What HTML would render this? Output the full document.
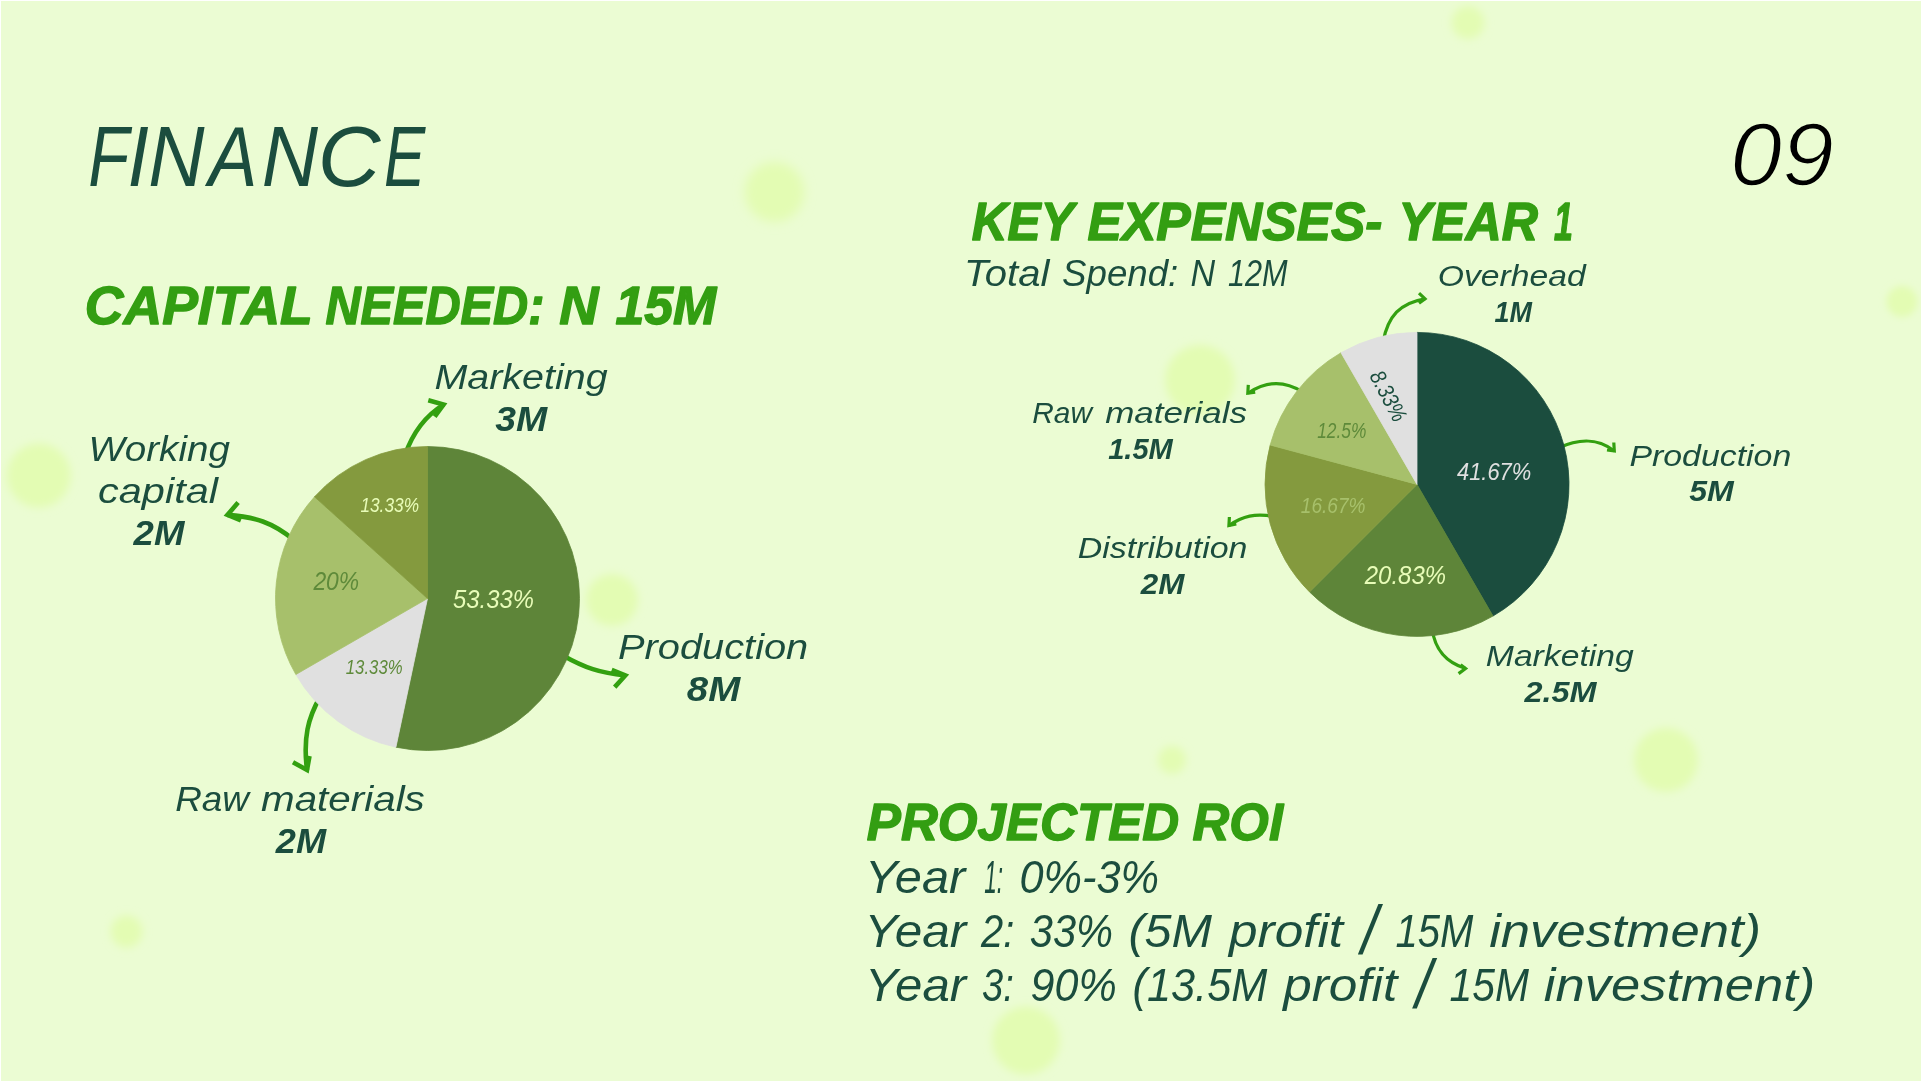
<!DOCTYPE html><html><head><meta charset="utf-8"><title>Finance</title><style>html,body{margin:0;padding:0;background:#fff;}body{width:1921px;height:1081px;overflow:hidden;position:relative;}svg{position:absolute;left:1px;top:1px;display:block;will-change:transform;}text{font-family:"Liberation Sans",Arial,sans-serif;font-style:italic;white-space:pre;}</style></head><body>
<svg width="1920" height="1080" viewBox="1 1 1920 1080">
<defs><filter id="b0" x="-100%" y="-100%" width="300%" height="300%"><feGaussianBlur stdDeviation="4"/></filter><filter id="b1" x="-100%" y="-100%" width="300%" height="300%"><feGaussianBlur stdDeviation="5.5"/></filter><filter id="b2" x="-100%" y="-100%" width="300%" height="300%"><feGaussianBlur stdDeviation="3.5"/></filter><filter id="b3" x="-100%" y="-100%" width="300%" height="300%"><feGaussianBlur stdDeviation="4"/></filter><filter id="b4" x="-100%" y="-100%" width="300%" height="300%"><feGaussianBlur stdDeviation="4.5"/></filter><filter id="b5" x="-100%" y="-100%" width="300%" height="300%"><feGaussianBlur stdDeviation="4"/></filter><filter id="b6" x="-100%" y="-100%" width="300%" height="300%"><feGaussianBlur stdDeviation="4"/></filter><filter id="b7" x="-100%" y="-100%" width="300%" height="300%"><feGaussianBlur stdDeviation="4.5"/></filter><filter id="b8" x="-100%" y="-100%" width="300%" height="300%"><feGaussianBlur stdDeviation="4.5"/></filter><filter id="b9" x="-100%" y="-100%" width="300%" height="300%"><feGaussianBlur stdDeviation="4"/></filter></defs>
<rect x="1" y="1" width="1920" height="1080" fill="#ebfcd3"/>
<circle cx="1468" cy="22.6" r="16.5" fill="#e3fcb3" filter="url(#b0)"/>
<circle cx="774.5" cy="192" r="30" fill="#e3fcb3" filter="url(#b1)"/>
<circle cx="1902" cy="301.6" r="15.5" fill="#e3fcb3" filter="url(#b2)"/>
<circle cx="38.8" cy="475.6" r="32" fill="#e3fcb3" filter="url(#b3)"/>
<circle cx="1200" cy="380" r="35" fill="#e3fcb3" filter="url(#b4)"/>
<circle cx="612" cy="600" r="26" fill="#e3fcb3" filter="url(#b5)"/>
<circle cx="1172" cy="760" r="14" fill="#e3fcb3" filter="url(#b6)"/>
<circle cx="1666" cy="760" r="32" fill="#e3fcb3" filter="url(#b7)"/>
<circle cx="126.6" cy="931.6" r="16" fill="#e3fcb3" filter="url(#b8)"/>
<circle cx="1026" cy="1040.6" r="34" fill="#e3fcb3" filter="url(#b9)"/>
<path d="M405,455 C413,432 425,416 443.57,404.61" fill="none" stroke="#33a010" stroke-width="4.6" stroke-linecap="butt"/><path d="M428.3,400.3 L443.57,404.61 L434.7,416.6" fill="none" stroke="#33a010" stroke-width="4.6" stroke-linejoin="miter" stroke-miterlimit="20" stroke-linecap="butt"/>
<path d="M294,540 C272,522 255,517 227.44,514.89" fill="none" stroke="#33a010" stroke-width="4.6" stroke-linecap="butt"/><path d="M238.1,502.6 L227.44,514.89 L240.9,520.4" fill="none" stroke="#33a010" stroke-width="4.6" stroke-linejoin="miter" stroke-miterlimit="20" stroke-linecap="butt"/>
<path d="M562,655 C585,668 600,673 625.27,675.49" fill="none" stroke="#33a010" stroke-width="4.6" stroke-linecap="butt"/><path d="M611.7,670 L625.27,675.49 L614.7,687.1" fill="none" stroke="#33a010" stroke-width="4.6" stroke-linejoin="miter" stroke-miterlimit="20" stroke-linecap="butt"/>
<path d="M320,697 C308,718 303,738 307.00,770.02" fill="none" stroke="#33a010" stroke-width="4.6" stroke-linecap="butt"/><path d="M293,762.2 L307.00,770.02 L309.5,756" fill="none" stroke="#33a010" stroke-width="4.6" stroke-linejoin="miter" stroke-miterlimit="20" stroke-linecap="butt"/>
<path d="M1383,342 C1388,316 1400,303 1425.00,298.84" fill="none" stroke="#33a010" stroke-width="3.2" stroke-linecap="butt"/><path d="M1419,293.2 L1425.00,298.84 L1419,303.2" fill="none" stroke="#33a010" stroke-width="3.2" stroke-linejoin="miter" stroke-miterlimit="20" stroke-linecap="butt"/>
<path d="M1303,392 C1285,381 1268,380 1247.81,393.22" fill="none" stroke="#33a010" stroke-width="3.2" stroke-linecap="butt"/><path d="M1248.3,384.8 L1247.81,393.22 L1255.2,392.1" fill="none" stroke="#33a010" stroke-width="3.2" stroke-linejoin="miter" stroke-miterlimit="20" stroke-linecap="butt"/>
<path d="M1558,448 C1580,438 1598,438 1614.29,450.96" fill="none" stroke="#33a010" stroke-width="3.2" stroke-linecap="butt"/><path d="M1613.8,442.5 L1614.29,450.96 L1607,450" fill="none" stroke="#33a010" stroke-width="3.2" stroke-linejoin="miter" stroke-miterlimit="20" stroke-linecap="butt"/>
<path d="M1274,516.5 C1255,513 1243,516 1228.92,525.51" fill="none" stroke="#33a010" stroke-width="3.2" stroke-linecap="butt"/><path d="M1229.4,517 L1228.92,525.51 L1236.3,524" fill="none" stroke="#33a010" stroke-width="3.2" stroke-linejoin="miter" stroke-miterlimit="20" stroke-linecap="butt"/>
<path d="M1432,628 C1435,652 1448,663 1465.54,668.48" fill="none" stroke="#33a010" stroke-width="3.2" stroke-linecap="butt"/><path d="M1460.6,664.7 L1465.54,668.48 L1458.6,673.6" fill="none" stroke="#33a010" stroke-width="3.2" stroke-linejoin="miter" stroke-miterlimit="20" stroke-linecap="butt"/>
<path d="M427.50,598.50 L427.50,446.50 A152.0,152.0 0 1 1 395.90,747.18 Z" fill="#5e8539" stroke="#5e8539" stroke-width="0.8" stroke-linejoin="round"/>
<path d="M427.50,598.50 L395.90,747.18 A152.0,152.0 0 0 1 295.86,674.50 Z" fill="#e0e0e0" stroke="#e0e0e0" stroke-width="0.8" stroke-linejoin="round"/>
<path d="M427.50,598.50 L295.86,674.50 A152.0,152.0 0 0 1 314.54,496.79 Z" fill="#a7c06b" stroke="#a7c06b" stroke-width="0.8" stroke-linejoin="round"/>
<path d="M427.50,598.50 L314.54,496.79 A152.0,152.0 0 0 1 427.50,446.50 Z" fill="#849a3e" stroke="#849a3e" stroke-width="0.8" stroke-linejoin="round"/>
<path d="M1417.00,484.40 L1417.00,332.40 A152.0,152.0 0 0 1 1493.00,616.04 Z" fill="#1b4d3e" stroke="#1b4d3e" stroke-width="0.8" stroke-linejoin="round"/>
<path d="M1417.00,484.40 L1493.00,616.04 A152.0,152.0 0 0 1 1309.52,591.88 Z" fill="#5e8539" stroke="#5e8539" stroke-width="0.8" stroke-linejoin="round"/>
<path d="M1417.00,484.40 L1309.52,591.88 A152.0,152.0 0 0 1 1270.18,445.06 Z" fill="#849a3e" stroke="#849a3e" stroke-width="0.8" stroke-linejoin="round"/>
<path d="M1417.00,484.40 L1270.18,445.06 A152.0,152.0 0 0 1 1341.00,352.76 Z" fill="#a7c06b" stroke="#a7c06b" stroke-width="0.8" stroke-linejoin="round"/>
<path d="M1417.00,484.40 L1341.00,352.76 A152.0,152.0 0 0 1 1417.00,332.40 Z" fill="#e0e0e0" stroke="#e0e0e0" stroke-width="0.8" stroke-linejoin="round"/>
<text id="t_09" x="1730.00" y="184.70" font-size="89.03" textLength="103.90" lengthAdjust="spacingAndGlyphs" fill="#000000" stroke="#ebfcd3" stroke-width="1.6" stroke-linejoin="round">09</text>
<text id="l_mkt" x="434.40" y="388.80" font-size="35.60" textLength="173.22" lengthAdjust="spacingAndGlyphs" fill="#1b4d3e">Marketing</text>
<text id="l_3m" x="495.20" y="430.80" font-size="35.60" textLength="52.01" lengthAdjust="spacingAndGlyphs" font-weight="bold" fill="#1b4d3e">3M</text>
<text id="l_work" x="88.40" y="460.80" font-size="35.60" textLength="141.48" lengthAdjust="spacingAndGlyphs" fill="#1b4d3e">Working</text>
<text id="l_capital" x="98.00" y="503.00" font-size="35.60" textLength="120.00" lengthAdjust="spacingAndGlyphs" fill="#1b4d3e">capital</text>
<text id="l_2m" x="133.60" y="544.70" font-size="35.60" textLength="50.85" lengthAdjust="spacingAndGlyphs" font-weight="bold" fill="#1b4d3e">2M</text>
<text id="l_prod" x="618.00" y="659.20" font-size="35.60" textLength="190.25" lengthAdjust="spacingAndGlyphs" fill="#1b4d3e">Production</text>
<text id="l_8m" x="686.80" y="700.90" font-size="35.60" textLength="53.41" lengthAdjust="spacingAndGlyphs" font-weight="bold" fill="#1b4d3e">8M</text>
<text id="l_2m2" x="275.80" y="852.70" font-size="35.60" textLength="50.24" lengthAdjust="spacingAndGlyphs" font-weight="bold" fill="#1b4d3e">2M</text>
<text id="r_over" x="1437.80" y="285.90" font-size="30.20" textLength="148.00" lengthAdjust="spacingAndGlyphs" fill="#1b4d3e">Overhead</text>
<text id="r_1m" x="1494.40" y="321.80" font-size="30.20" textLength="37.43" lengthAdjust="spacingAndGlyphs" font-weight="bold" fill="#1b4d3e">1M</text>
<text id="r_15m" x="1108.20" y="458.80" font-size="30.20" textLength="64.61" lengthAdjust="spacingAndGlyphs" font-weight="bold" fill="#1b4d3e">1.5M</text>
<text id="r_prod" x="1629.40" y="466.00" font-size="30.20" textLength="161.84" lengthAdjust="spacingAndGlyphs" fill="#1b4d3e">Production</text>
<text id="r_5m" x="1689.20" y="501.40" font-size="30.20" textLength="44.60" lengthAdjust="spacingAndGlyphs" font-weight="bold" fill="#1b4d3e">5M</text>
<text id="r_dist" x="1077.80" y="558.10" font-size="30.20" textLength="169.62" lengthAdjust="spacingAndGlyphs" fill="#1b4d3e">Distribution</text>
<text id="r_2m" x="1140.80" y="594.00" font-size="30.20" textLength="43.63" lengthAdjust="spacingAndGlyphs" font-weight="bold" fill="#1b4d3e">2M</text>
<text id="r_mkt" x="1485.80" y="665.80" font-size="30.20" textLength="148.01" lengthAdjust="spacingAndGlyphs" fill="#1b4d3e">Marketing</text>
<text id="r_25m" x="1524.40" y="701.80" font-size="30.20" textLength="72.02" lengthAdjust="spacingAndGlyphs" font-weight="bold" fill="#1b4d3e">2.5M</text>
<text id="p_l1" x="360.40" y="511.70" font-size="19.80" textLength="58.63" lengthAdjust="spacingAndGlyphs" fill="#e8fcb8">13.33%</text>
<text id="p_l2" x="313.40" y="589.80" font-size="25.40" textLength="45.81" lengthAdjust="spacingAndGlyphs" fill="#5e8a3a">20%</text>
<text id="p_l3" x="453.00" y="607.90" font-size="25.40" textLength="80.84" lengthAdjust="spacingAndGlyphs" fill="#e8fcb8">53.33%</text>
<text id="p_l4" x="345.80" y="673.70" font-size="19.80" textLength="56.82" lengthAdjust="spacingAndGlyphs" fill="#5e8a3a">13.33%</text>
<text id="p_r1" x="1457.00" y="479.50" font-size="24.80" textLength="74.22" lengthAdjust="spacingAndGlyphs" fill="#e0e0e0">41.67%</text>
<text id="p_r2" x="1364.80" y="583.60" font-size="25.20" textLength="81.21" lengthAdjust="spacingAndGlyphs" fill="#e8fcb8">20.83%</text>
<text id="p_r3" x="1300.80" y="512.70" font-size="22.00" textLength="64.82" lengthAdjust="spacingAndGlyphs" fill="#a7c06b">16.67%</text>
<text id="p_r4" x="1317.20" y="438.10" font-size="22.00" textLength="49.25" lengthAdjust="spacingAndGlyphs" fill="#5e8a3a">12.5%</text>
<text font-size="52.76" fill="#339e12" font-weight="bold" stroke="#339e12" stroke-width="1.4" stroke-linejoin="round"><tspan x="84.80" y="324.10" textLength="227.07" lengthAdjust="spacingAndGlyphs">CAPITAL</tspan> <tspan x="325.40" y="324.10" textLength="219.01" lengthAdjust="spacingAndGlyphs">NEEDED:</tspan> <tspan x="559.20" y="324.10" textLength="39.25" lengthAdjust="spacingAndGlyphs">N</tspan> <tspan x="615.40" y="324.10" textLength="100.83" lengthAdjust="spacingAndGlyphs">15M</tspan></text>
<text font-size="53.05" fill="#339e12" font-weight="bold" stroke="#339e12" stroke-width="1.4" stroke-linejoin="round"><tspan x="971.80" y="240.30" textLength="101.00" lengthAdjust="spacingAndGlyphs">KEY</tspan> <tspan x="1087.60" y="240.30" textLength="294.80" lengthAdjust="spacingAndGlyphs">EXPENSES-</tspan> <tspan x="1398.60" y="240.30" textLength="139.28" lengthAdjust="spacingAndGlyphs">YEAR</tspan> <tspan x="1554.00" y="240.30" textLength="18.93" lengthAdjust="spacingAndGlyphs">1</tspan></text>
<text font-size="52.47" fill="#339e12" font-weight="bold" stroke="#339e12" stroke-width="1.4" stroke-linejoin="round"><tspan x="866.80" y="840.40" textLength="312.40" lengthAdjust="spacingAndGlyphs">PROJECTED</tspan> <tspan x="1192.60" y="840.40" textLength="90.44" lengthAdjust="spacingAndGlyphs">ROI</tspan></text>
<text font-size="45.78" fill="#1b4d3e"><tspan x="865.00" y="893.10" textLength="100.31" lengthAdjust="spacingAndGlyphs">Year</tspan> <tspan x="984.20" y="893.10" textLength="18.93" lengthAdjust="spacingAndGlyphs">1:</tspan> <tspan x="1019.40" y="893.10" textLength="139.68" lengthAdjust="spacingAndGlyphs">0%-3%</tspan></text>
<text font-size="45.78" fill="#1b4d3e"><tspan x="864.40" y="947.10" textLength="101.92" lengthAdjust="spacingAndGlyphs">Year</tspan> <tspan x="981.00" y="947.10" textLength="33.25" lengthAdjust="spacingAndGlyphs">2:</tspan> <tspan x="1029.80" y="947.10" textLength="83.30" lengthAdjust="spacingAndGlyphs">33%</tspan> <tspan x="1128.40" y="947.10" textLength="83.67" lengthAdjust="spacingAndGlyphs">(5M</tspan> <tspan x="1229.00" y="947.10" textLength="114.11" lengthAdjust="spacingAndGlyphs">profit</tspan> <tspan x="1361.20" y="954.20" font-size="69.20" textLength="16.62" lengthAdjust="spacingAndGlyphs">/</tspan> <tspan x="1395.40" y="947.10" textLength="77.80" lengthAdjust="spacingAndGlyphs">15M</tspan> <tspan x="1489.20" y="947.10" textLength="271.84" lengthAdjust="spacingAndGlyphs">investment)</tspan></text>
<text font-size="45.78" fill="#1b4d3e"><tspan x="865.00" y="1000.90" textLength="101.13" lengthAdjust="spacingAndGlyphs">Year</tspan> <tspan x="982.00" y="1000.90" textLength="31.75" lengthAdjust="spacingAndGlyphs">3:</tspan> <tspan x="1030.60" y="1000.90" textLength="86.16" lengthAdjust="spacingAndGlyphs">90%</tspan> <tspan x="1132.60" y="1000.90" textLength="134.64" lengthAdjust="spacingAndGlyphs">(13.5M</tspan> <tspan x="1283.20" y="1000.90" textLength="114.08" lengthAdjust="spacingAndGlyphs">profit</tspan> <tspan x="1415.40" y="1008.20" font-size="69.20" textLength="16.59" lengthAdjust="spacingAndGlyphs">/</tspan> <tspan x="1449.60" y="1000.90" textLength="79.41" lengthAdjust="spacingAndGlyphs">15M</tspan> <tspan x="1543.80" y="1000.90" textLength="271.45" lengthAdjust="spacingAndGlyphs">investment)</tspan></text>
<text font-size="85.32" fill="#1b4d3e"><tspan x="88.20" y="185.90" textLength="40.86" lengthAdjust="spacingAndGlyphs">F</tspan><tspan x="127.40" y="185.90" textLength="21.42" lengthAdjust="spacingAndGlyphs">I</tspan><tspan x="148.20" y="185.90" textLength="56.27" lengthAdjust="spacingAndGlyphs">N</tspan><tspan x="208.40" y="185.90" textLength="48.81" lengthAdjust="spacingAndGlyphs">A</tspan><tspan x="261.80" y="185.90" textLength="56.29" lengthAdjust="spacingAndGlyphs">N</tspan><tspan x="317.80" y="185.90" textLength="62.73" lengthAdjust="spacingAndGlyphs">C</tspan><tspan x="384.00" y="185.90" textLength="41.24" lengthAdjust="spacingAndGlyphs">E</tspan></text>
<text font-size="36.34" fill="#1b4d3e"><tspan x="964.00" y="285.90" textLength="85.29" lengthAdjust="spacingAndGlyphs">Total</tspan> <tspan x="1062.00" y="285.90" textLength="116.29" lengthAdjust="spacingAndGlyphs">Spend:</tspan> <tspan x="1190.60" y="285.90" textLength="24.63" lengthAdjust="spacingAndGlyphs">N</tspan> <tspan x="1228.00" y="285.90" textLength="59.62" lengthAdjust="spacingAndGlyphs">12M</tspan></text>
<text font-size="35.60" fill="#1b4d3e"><tspan x="175.20" y="811.10" textLength="73.81" lengthAdjust="spacingAndGlyphs">Raw</tspan> <tspan x="261.00" y="811.10" textLength="163.81" lengthAdjust="spacingAndGlyphs">materials</tspan></text>
<text font-size="30.20" fill="#1b4d3e"><tspan x="1032.20" y="422.90" textLength="59.82" lengthAdjust="spacingAndGlyphs">Raw</tspan> <tspan x="1105.20" y="422.90" textLength="141.82" lengthAdjust="spacingAndGlyphs">materials</tspan></text>
<text id="p_r5" x="1381.60" y="399.50" font-size="22.50" textLength="54.00" lengthAdjust="spacingAndGlyphs" fill="#1b4d3e" text-anchor="middle" transform="rotate(62 1381.6 399.5)">8.33%</text>
</svg></body></html>
